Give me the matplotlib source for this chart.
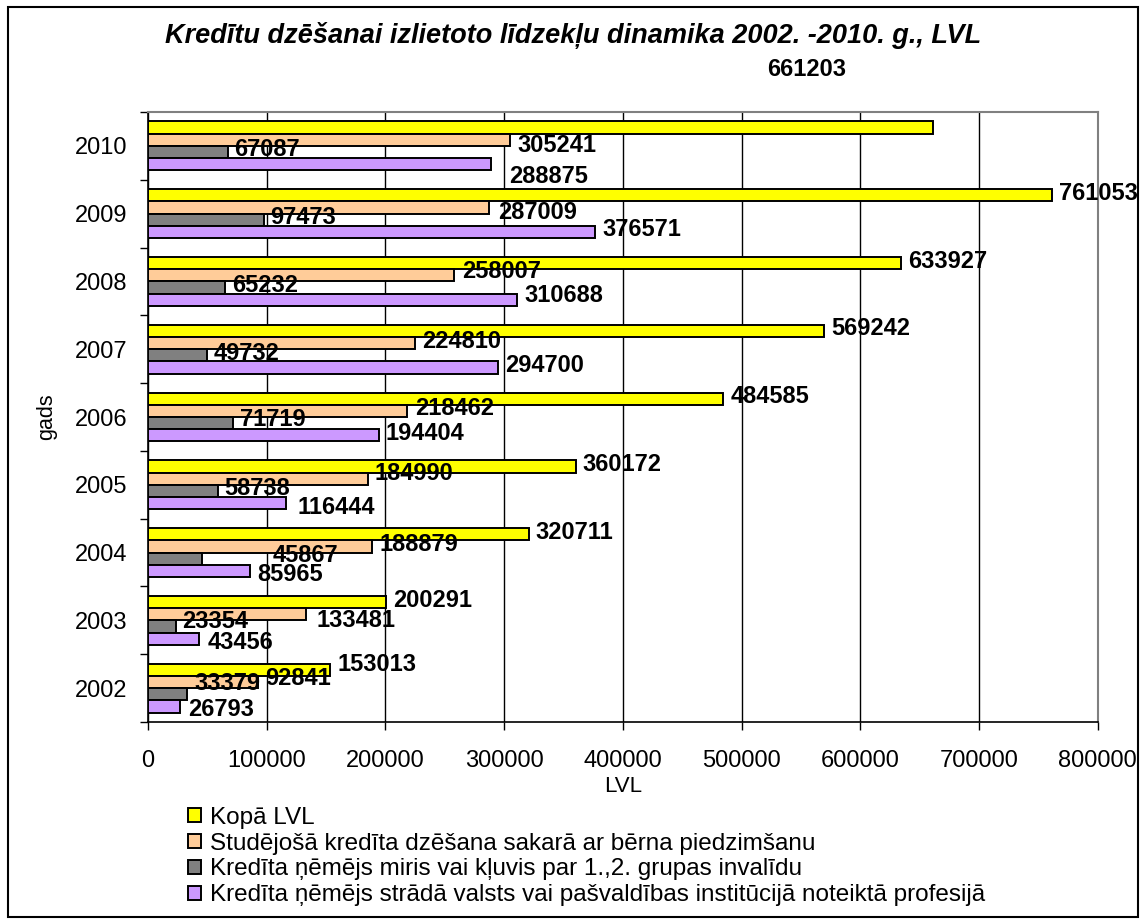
import numpy as np
import matplotlib
matplotlib.use('Agg')
import matplotlib.pyplot as plt
from matplotlib.patches import Rectangle

plt.rcParams['font.family'] = ['Liberation Sans', 'DejaVu Sans']

#Data
years = ['2002', '2003', '2004', '2005', '2006', '2007', '2008', '2009', '2010']
kopa = [153013, 200291, 320711, 360172, 484585, 569242, 633927, 761053, 661203]
studejosa = [92841, 133481, 188879, 184990, 218462, 224810, 258007, 287009, 305241]
miris = [33379, 23354, 45867, 58738, 71719, 49732, 65232, 97473, 67087]
strada = [26793, 43456, 85965, 116444, 194404, 294700, 310688, 376571, 288875]

series_names = ['Kopā LVL',
                'Studējošā kredīta dzēšana sakarā ar bērna piedzimšanu',
                'Kredīta ņēmējs miris vai kļuvis par 1.,2. grupas invalīdu',
                'Kredīta ņēmējs strādā valsts vai pašvaldības institūcijā noteiktā profesijā']
colors = ['#FFFF00', '#FFCC99', '#808080', '#CC99FF']

#label nudges in pixels (dx, dy down), default is (7, -2)
nudges = {
    (0, 8): (-166, -58),
    (1, 8): (7, 6), (3, 8): (18, 12),
    (1, 7): (9, 5),
    (1, 6): (8, -4), (3, 6): (8, -4),
    (1, 4): (8, -2), (2, 4): (7, -4),
    (1, 3): (7, -5), (3, 3): (11, 4),
    (2, 2): (70, -3), (3, 2): (7, 4),
    (1, 1): (10, 6), (2, 1): (7, -5), (3, 1): (8, 4),
    (0, 0): (8, -5), (1, 0): (7, -4), (2, 0): (7, -11), (3, 0): (8, 3),
}

fig = plt.figure(figsize=(11.46, 9.24), dpi=100)
ax = fig.add_axes([0.129, 0.2186, 0.8290, 0.6602])

y = np.arange(len(years))
h = 0.18
offs = [0.27, 0.09, -0.09, -0.27]
all_vals = [kopa, studejosa, miris, strada]

for s, vals in enumerate(all_vals):
    ax.barh(y + offs[s], vals, height=h, color=colors[s], edgecolor='black',
            linewidth=1.4, label=series_names[s], zorder=3)
    for i, v in enumerate(vals):
        dx, dy = nudges.get((s, i), (7, -2))
        ax.annotate(str(v), (v, y[i] + offs[s]), xytext=(dx, -dy),
                    textcoords='offset pixels', ha='left', va='center',
                    fontsize=17, fontweight='bold', zorder=5,
                    annotation_clip=False)

ax.set_xlim(0, 800000)
ax.set_ylim(-0.5, len(years) - 0.5)
ax.set_xticks(np.arange(0, 800001, 100000))
ax.set_xticklabels([str(t) for t in range(0, 800001, 100000)], fontsize=17)
ax.set_yticks(y)
ax.set_yticklabels(years, fontsize=17)
ax.set_yticks(np.arange(-0.5, len(years), 1), minor=True)
ax.tick_params(axis='y', which='major', length=0, pad=14.5)
ax.tick_params(axis='y', which='minor', length=6, direction='out', width=1)
ax.tick_params(axis='x', length=6, direction='out', width=1, pad=14)

ax.grid(axis='x', color='black', linewidth=1, zorder=0)
for side in ['top', 'right']:
    ax.spines[side].set_color('#808080')
    ax.spines[side].set_linewidth(1.5)
ax.spines['left'].set_linewidth(1.2)
ax.spines['bottom'].set_linewidth(1.2)

ax.set_xlabel('LVL', fontsize=16, labelpad=3)
ax.set_ylabel('gads', fontsize=15.5, labelpad=13)

fig.text(0.5, 0.962, 'Kredītu dzēšanai izlietoto līdzekļu dinamika 2002. -2010. g., LVL',
         ha='center', va='center', fontsize=19.5, fontweight='bold', style='italic')

ax.legend(loc='upper left', bbox_to_anchor=(0.164, 0.127), bbox_transform=fig.transFigure,
          frameon=False, fontsize=17.5, handlelength=0.53, handleheight=0.53,
          handletextpad=0.37, labelspacing=0.16, borderaxespad=0, borderpad=0)

fig.patches.append(Rectangle((0.007, 0.008), 0.986, 0.984, transform=fig.transFigure,
                             fill=False, edgecolor='black', linewidth=1.5))

fig.savefig('out.png', dpi=100)
